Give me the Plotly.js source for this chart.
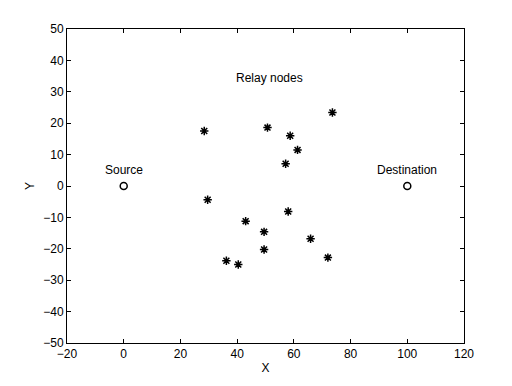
<!DOCTYPE html>
<html>
<head>
<meta charset="utf-8">
<script src="https://cdn.plot.ly/plotly-3.0.1.min.js"></script>
<style>
  body { margin: 0; background: #fff; }
  #chart { width: 512px; height: 386px; }
</style>
</head>
<body>
<div id="chart"></div>
<script>
// Relay node positions
var relayX = [28.4, 50.7, 58.7, 61.3, 57.1, 73.6, 29.6, 58.0, 43.0, 49.5, 65.9, 49.5, 72.0, 36.2, 40.4];
var relayY = [17.5, 18.6, 16.0, 11.5, 7.1, 23.4, -4.4, -8.1, -11.2, -14.6, -16.8, -20.2, -22.8, -23.8, -25.0];

// Source and destination
var endX = [0, 100];
var endY = [0, 0];
var endNames = ['Source', 'Destination'];

var labelFont = {family: 'Liberation Sans, Arial, sans-serif', size: 12, color: '#000'};

var relays = {
    x: relayX,
    y: relayY,
    mode: 'markers',
    type: 'scatter',
    marker: {symbol: 'asterisk-open', size: 7, color: '#000', line: {color: '#000', width: 1.5}},
    hoverinfo: 'skip'
};

var ends = {
    x: endX,
    y: endY,
    mode: 'markers',
    type: 'scatter',
    marker: {symbol: 'circle-open', size: 7, color: '#000', line: {color: '#000', width: 1.5}},
    hoverinfo: 'skip'
};

var notes = endNames.map(function (name, i) {
    return {x: endX[i], y: endY[i] + 5, text: name, showarrow: false, font: labelFont};
});
notes.push({x: 51.4, y: 34.5, text: 'Relay nodes', showarrow: false, font: labelFont});

var axisCommon = {
    showgrid: false,
    zeroline: false,
    showline: true,
    linecolor: '#000',
    linewidth: 1,
    mirror: 'ticks',
    ticks: 'inside',
    ticklen: 4,
    tickcolor: '#000',
    tickfont: labelFont
};

var layout = {
    width: 512,
    height: 386,
    margin: {l: 67, r: 48, t: 29, b: 43},
    paper_bgcolor: '#fff',
    plot_bgcolor: '#fff',
    showlegend: false,
    font: labelFont,
    xaxis: Object.assign({}, axisCommon, {
        range: [-20, 120], dtick: 20, tick0: 0,
        title: {text: 'X', font: labelFont, standoff: 3}
    }),
    yaxis: Object.assign({}, axisCommon, {
        range: [-50, 50], dtick: 10, tick0: 0,
        title: {text: 'Y', font: labelFont, standoff: 6}
    }),
    annotations: notes
};

Plotly.newPlot('chart', [relays, ends], layout, {displayModeBar: false, staticPlot: true});
</script>
</body>
</html>
